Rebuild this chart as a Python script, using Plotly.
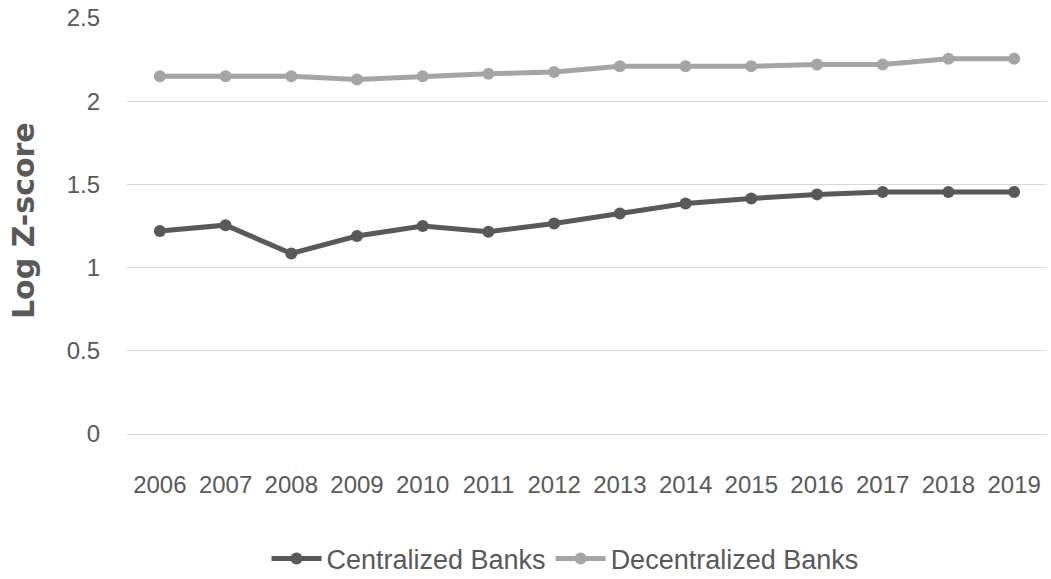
import plotly.graph_objects as go

# Log Z-score by year for the two bank groups
years = ["2006", "2007", "2008", "2009", "2010", "2011", "2012",
         "2013", "2014", "2015", "2016", "2017", "2018", "2019"]
centralized = [1.22, 1.255, 1.085, 1.19, 1.25, 1.215, 1.265,
               1.325, 1.385, 1.415, 1.44, 1.455, 1.455, 1.455]
decentralized = [2.15, 2.15, 2.15, 2.13, 2.15, 2.165, 2.175,
                 2.21, 2.21, 2.21, 2.22, 2.22, 2.255, 2.255]
y_ticks = [0, 0.5, 1, 1.5, 2, 2.5]
y_tick_text = ["0", "0.5", "1", "1.5", "2", "2.5"]

TICK_FONT = dict(family="Liberation Sans, Arial, sans-serif", size=24, color="#595959")
LEGEND_FONT = dict(family="Liberation Sans, Arial, sans-serif", size=27, color="#595959")

fig = go.Figure()
fig.add_trace(go.Scatter(
    x=years, y=centralized, name="Centralized Banks", mode="lines+markers",
    line=dict(color="#595959", width=5),
    marker=dict(color="#595959", size=12, symbol="circle"),
))
fig.add_trace(go.Scatter(
    x=years, y=decentralized, name="Decentralized Banks", mode="lines+markers",
    line=dict(color="#a5a5a5", width=5),
    marker=dict(color="#a5a5a5", size=12, symbol="circle"),
))

fig.update_layout(
    width=1051, height=579,
    margin=dict(l=127, r=4, t=18, b=145, autoexpand=False),
    paper_bgcolor="white", plot_bgcolor="white",
    showlegend=True,
    legend=dict(orientation="h", x=(565 - 127) / 920, xanchor="center",
                yref="container", y=(579 - 559) / 579, yanchor="middle",
                font=LEGEND_FONT, itemwidth=50, traceorder="normal"),
    xaxis=dict(type="category", range=[-0.5, 13.5], showgrid=False, zeroline=False,
               showline=False, ticks="", tickfont=TICK_FONT, ticklabelstandoff=34),
    yaxis=dict(range=[0, 2.5], tickvals=y_ticks, ticktext=y_tick_text,
               showgrid=True, gridcolor="#d9d9d9", gridwidth=1.2,
               zeroline=True, zerolinecolor="#d9d9d9", zerolinewidth=1.2,
               showline=False, ticks="", tickfont=TICK_FONT, ticklabelstandoff=26),
    annotations=[dict(
        text="<b>Log Z-score</b>", textangle=-90, showarrow=False,
        xref="paper", yref="paper", x=(23 - 127) / 920, y=(434 - 221) / 416,
        xanchor="center", yanchor="middle",
        font=dict(family="DejaVu Sans, Arial, sans-serif", size=30, color="#595959"),
    )],
)

fig.write_html("out.html")
